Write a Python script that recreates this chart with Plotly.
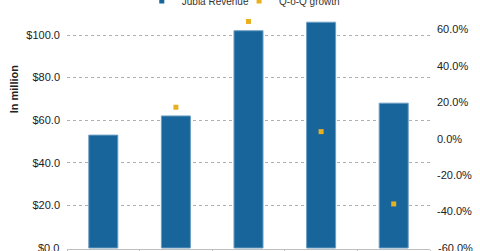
import plotly.graph_objects as go

quarters = ["Q1", "Q2", "Q3", "Q4", "Q5"]
revenue = [53, 62, 102, 106, 68]
growth = [None, 17.3, 64.4, 3.9, -35.8]
left_ticks = [0, 20, 40, 60, 80, 100]
right_ticks = [-60, -40, -20, 0, 20, 40, 60]

BAR = "#17659a"
GOLD = "#e8b01c"
FONT = "Liberation Sans, Arial, sans-serif"

fig = go.Figure()
fig.add_trace(go.Bar(
    x=quarters, y=revenue, name="Jubia Revenue",
    marker=dict(color=BAR, line=dict(color="#6c9fc4", width=1)),
    showlegend=False, yaxis="y",
))
fig.add_trace(go.Scatter(
    x=quarters, y=growth, name="Q-o-Q growth", mode="markers",
    marker=dict(color=GOLD, symbol="square", size=5),
    cliponaxis=False, showlegend=False, yaxis="y2",
))
# legend entries
fig.add_trace(go.Scatter(x=[None], y=[None], mode="markers", name="Jubia Revenue",
                         marker=dict(color=BAR, symbol="square", size=5), legend="legend"))
fig.add_trace(go.Scatter(x=[None], y=[None], mode="markers", name="Q-o-Q growth",
                         marker=dict(color=GOLD, symbol="square", size=5), legend="legend2"))

leg_common = dict(orientation="h", xanchor="left", y=1.083, yanchor="middle",
                  font=dict(size=10, color="#333"), bgcolor="rgba(0,0,0,0)")

# bottom-edge tick labels (plotly drops labels that overflow the page)
edge_labels = [
    dict(text=f"${left_ticks[0]:.1f}", xref="paper", yref="y", x=0, y=left_ticks[0],
         xanchor="right", yanchor="middle", xshift=-6, showarrow=False,
         font=dict(size=11, color="#222")),
    dict(text=f"{right_ticks[0]:.1f}%", xref="paper", yref="y2", x=1, y=right_ticks[0],
         xanchor="left", yanchor="middle", xshift=6, showarrow=False,
         font=dict(size=11, color="#222")),
]

fig.update_layout(
    width=480, height=251,
    margin=dict(l=67, r=50, t=20, b=2, autoexpand=False),
    paper_bgcolor="white", plot_bgcolor="white",
    font=dict(family=FONT, size=11, color="#222"),
    bargap=0.6,
    showlegend=True,
    legend=dict(x=0.206, **leg_common),
    legend2=dict(x=0.474, **leg_common),
    xaxis=dict(
        showticklabels=False, showgrid=False, showline=True, linecolor="#bfbfbf",
        ticks="outside", tickson="boundaries", ticklen=6, tickcolor="#bfbfbf",
    ),
    yaxis=dict(
        range=[-0.47, 107.04], tickmode="array", tickvals=left_ticks,
        ticktext=[f"${v:.1f}" for v in left_ticks],
        showgrid=True, gridcolor="#b0b0b0", griddash="dot", gridwidth=1,
        zeroline=False, showline=False, ticks="", ticklabelstandoff=6,
        tickfont=dict(size=11, color="#222"),
    ),
    yaxis2=dict(
        range=[-60.55, 65.2], tickmode="array", tickvals=right_ticks,
        ticktext=[f"{v:.1f}%" for v in right_ticks],
        overlaying="y", side="right", showgrid=False, zeroline=False,
        showline=False, ticks="", ticklabelstandoff=6,
        tickfont=dict(size=11, color="#222"),
    ),
    annotations=[dict(
        text="<b>In million</b>", textangle=-90, xref="paper", yref="paper",
        x=-53 / 363, y=(248 - 89) / 228, xanchor="center", yanchor="middle",
        showarrow=False, font=dict(size=11, color="#222"),
    )] + edge_labels,
)

fig.write_html("out.html")
